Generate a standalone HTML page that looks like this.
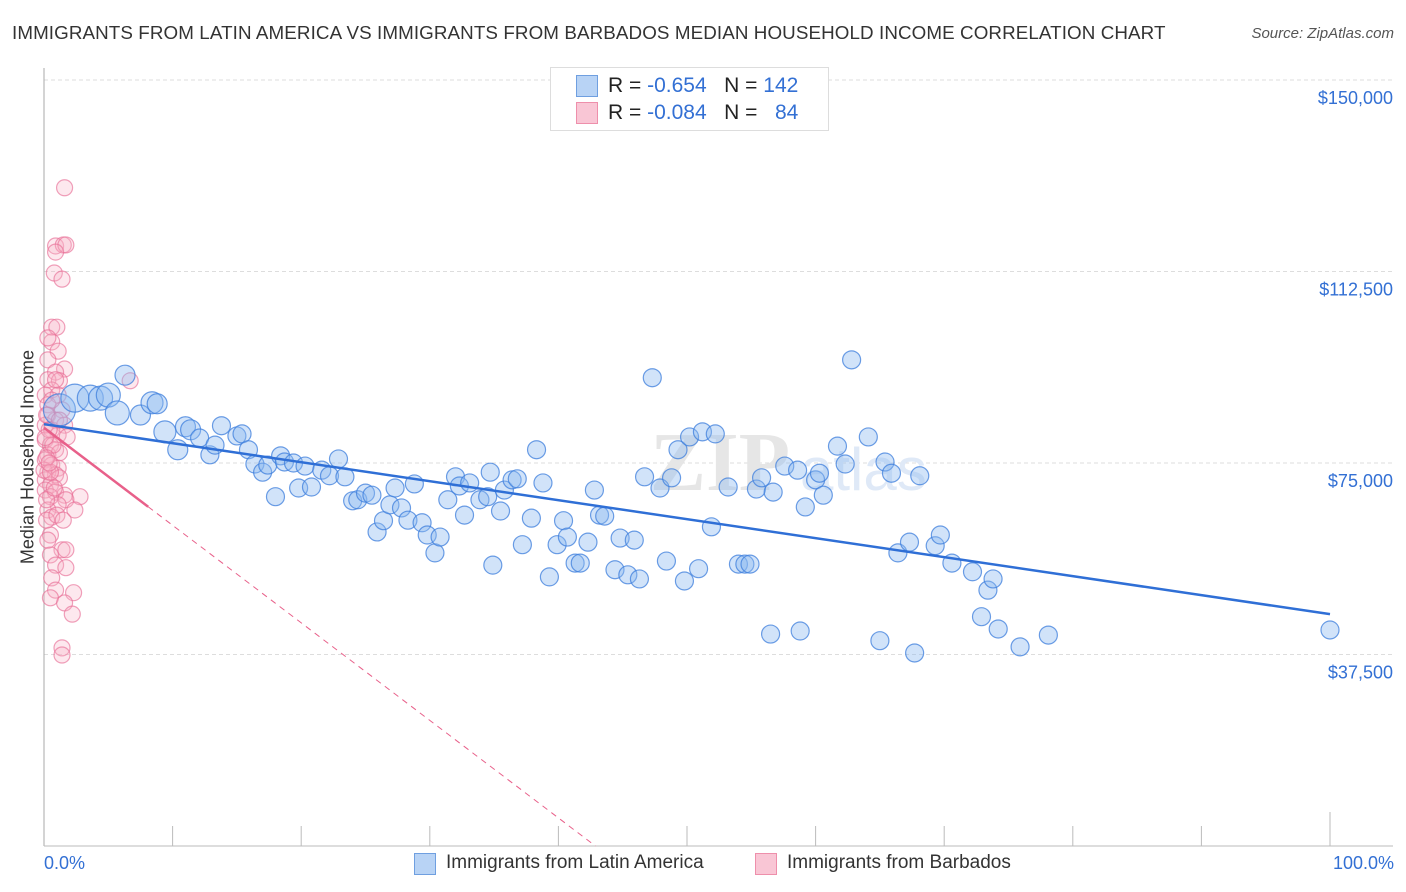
<!DOCTYPE html>
<html><head><meta charset="utf-8">
<style>
body{margin:0;background:#fff;font-family:"Liberation Sans",sans-serif;}
#wrap{position:relative;width:1406px;height:892px;overflow:hidden;}
.t{position:absolute;white-space:nowrap;}
</style></head>
<body>
<div id="wrap">
<div class="t" style="left:12px;top:22px;font-size:18.8px;letter-spacing:0.1px;color:#333;">IMMIGRANTS FROM LATIN AMERICA VS IMMIGRANTS FROM BARBADOS MEDIAN HOUSEHOLD INCOME CORRELATION CHART</div>
<div class="t" style="right:12px;top:25px;font-size:15px;color:#555;font-style:italic;">Source: ZipAtlas.com</div>
<svg id="svg" width="1406" height="892" style="position:absolute;left:0;top:0"></svg>
<div class="t" style="left:550px;top:67px;width:277px;height:62px;border:1px solid #ddd;background:#fff;"></div>
<div class="t" style="left:576px;top:75px;width:20px;height:20px;background:#b8d3f5;border:1px solid #6f9fe0;"></div>
<div class="t" style="left:576px;top:102px;width:20px;height:20px;background:#f9c6d5;border:1px solid #ee8fab;"></div>
<div class="t" style="left:608px;top:74px;font-size:21px;color:#222;">R = <span style="color:#3370d4">-0.654</span>&nbsp;&nbsp;&nbsp;N = <span style="color:#3370d4">142</span></div>
<div class="t" style="left:608px;top:101px;font-size:21px;color:#222;">R = <span style="color:#3370d4">-0.084</span>&nbsp;&nbsp;&nbsp;N = &nbsp;&nbsp;<span style="color:#3370d4">84</span></div>
<div class="t" style="left:28px;top:457px;font-size:18px;color:#333;transform:translate(-50%,-50%) rotate(-90deg);">Median Household Income</div>
<div class="t" style="left:44px;top:853px;font-size:18px;color:#3370d4;">0.0%</div>
<div class="t" style="right:12px;top:853px;font-size:18px;color:#3370d4;">100.0%</div>
<div class="t" style="left:414px;top:853px;width:20px;height:20px;background:#b8d3f5;border:1px solid #6f9fe0;"></div>
<div class="t" style="left:446px;top:852px;font-size:19px;color:#333;">Immigrants from Latin America</div>
<div class="t" style="left:755px;top:853px;width:20px;height:20px;background:#f9c6d5;border:1px solid #ee8fab;"></div>
<div class="t" style="left:787px;top:852px;font-size:19px;color:#333;">Immigrants from Barbados</div>
</div>
<script>
const yTicks=[150000,112500,75000,37500];
const yTickLabels=["$150,000","$112,500","$75,000","$37,500"];
const blueX=[1.2,2.4,3.6,4.4,5.0,6.3,5.7,7.5,8.4,8.8,9.4,10.4,11.0,11.4,12.1,12.9,13.3,13.8,15.0,15.4,15.9,16.4,17.0,17.4,18.0,18.4,18.7,19.4,19.8,20.3,20.8,21.6,22.2,22.9,23.4,24.0,24.4,25.0,25.5,25.9,26.4,26.9,27.3,27.8,28.3,28.8,29.4,29.8,30.4,30.8,31.4,32.0,32.3,32.7,33.1,33.9,34.5,34.7,34.9,35.5,35.8,36.4,36.8,37.2,37.9,38.3,38.8,39.3,39.9,40.4,40.7,41.3,41.7,42.3,42.8,43.2,43.6,44.4,44.8,45.4,45.9,46.3,46.7,47.3,47.9,48.4,48.8,49.3,49.8,50.2,50.9,51.2,51.9,52.2,53.2,54.0,54.5,54.9,55.4,55.8,56.5,56.7,57.6,58.6,58.8,59.2,60.0,60.3,60.6,61.7,62.3,62.8,64.1,65.0,65.4,65.9,66.4,67.3,67.7,68.1,69.3,69.7,70.6,72.2,72.9,73.4,73.8,74.2,75.9,78.1,100.0];
const blueY=[85.4,87.7,87.7,87.7,88.3,92.2,84.8,84.4,86.8,86.6,81.1,77.6,82.1,81.5,79.9,76.6,78.5,82.3,80.3,80.7,77.6,74.8,73.2,74.6,68.4,76.4,75.2,75.0,70.1,74.4,70.3,73.6,72.5,75.8,72.3,67.6,67.8,69.1,68.7,61.5,63.7,66.8,70.1,66.2,63.8,70.9,63.3,60.9,57.4,60.5,67.8,72.3,70.5,64.8,71.1,67.8,68.4,73.2,55.0,65.6,69.7,71.7,71.9,59.0,64.2,77.6,71.1,52.7,59.0,63.7,60.5,55.4,55.4,59.5,69.7,64.8,64.6,54.1,60.3,53.1,59.9,52.3,72.3,91.7,70.1,55.8,72.1,77.6,51.9,80.1,54.3,81.1,62.5,80.7,70.3,55.2,55.2,55.2,69.9,72.1,41.5,69.3,74.4,73.6,42.1,66.4,71.7,73.0,68.7,78.3,74.8,95.2,80.1,40.2,75.2,73.0,57.4,59.5,37.8,72.5,58.8,60.9,55.4,53.7,44.9,50.1,52.3,42.5,39.0,41.3,42.3];
const blueR=[16,14,13,12,12,10,12,10,11,10,11,10,10,10,9,9,9,9];
const pinkX=[1.6,0.9,1.5,1.7,0.9,0.8,1.4,0.6,1.0,0.6,0.3,1.1,0.3,1.6,0.9,0.3,1.2,6.7,0.6,0.1,1.1,0.3,1.4,0.3,0.9,0.1,1.6,0.6,1.1,1.8,0.1,0.5,0.9,0.3,1.2,0.1,0.6,1.1,0.3,0.9,0.1,1.2,0.5,0.1,0.9,1.6,2.8,0.5,1.7,1.1,0.3,2.4,0.6,0.5,1.4,0.5,1.7,0.9,1.7,0.6,0.9,2.3,0.5,1.6,2.2,1.4,1.4,0.2,0,0.2,0.2,0.3,0.9,0.6,1.2,0.4,0.7,0.2,0.5,0.8,1.0,1.5,0.1,0.4];
const pinkY=[128.9,117.5,117.7,117.7,116.3,112.2,111.0,101.6,101.6,98.7,99.5,96.9,95.2,93.4,92.8,91.3,91.1,91.1,89.3,88.3,88.3,86.4,85.4,84.4,83.4,82.4,82.4,81.5,80.5,80.1,79.5,78.5,77.6,76.6,77.0,75.6,74.6,74.0,73.2,72.7,71.7,72.1,70.7,69.7,69.3,68.7,68.4,68.4,67.8,66.8,65.8,65.8,64.4,60.9,58.0,57.0,58.0,55.0,54.5,52.5,50.1,49.6,48.6,47.6,45.4,38.8,37.4,84.4,73.6,67.8,63.8,59.9,91.3,87.3,83.4,81.5,78.5,76.0,73.2,70.1,64.8,63.8,80.0,75.0];
const blueTrend=[82.6,45.4];
const pinkTrend=[81.9,-1.91];

const X0=44,X1=1330,Y150=80,PX=191.5/37.5;
const sx=p=>X0+(X1-X0)*p/100;
const sy=v=>Y150+(150-v)*PX;
const NS="http://www.w3.org/2000/svg";
const svg=document.getElementById('svg');
function mk(tag,attrs,name){const e=document.createElementNS(NS,tag);for(const k in attrs)e.setAttribute(k,attrs[k]);


svg.appendChild(e);return e;}
yTicks.forEach((t,i)=>{
 const y=sy(t/1000);
 mk('line',{x1:X0,x2:1393,y1:y,y2:y,stroke:'#ddd','stroke-dasharray':'4,3'},'y-gridline');
 const tx=mk('text',{x:1393,y:y+24,'text-anchor':'end','font-size':18,fill:'#3370d4','font-family':'Liberation Sans'},'y-tick-label');
 tx.textContent=yTickLabels[i];
});
mk('line',{x1:X0,x2:X0,y1:68,y2:846,stroke:'#aaa'},'y-axis-line');
mk('line',{x1:X0,x2:1393,y1:846,y2:846,stroke:'#bbb'},'x-axis-line');
for(let i=1;i<=10;i++){const x=sx(i*10);mk('line',{x1:x,x2:x,y1:i==10?812:826,y2:846,stroke:'#bbb'},'x-tick');}
const wm=mk('text',{x:720,y:490,'text-anchor':'middle','font-size':84,fill:'#e6e6e6','font-family':'Liberation Serif','font-weight':'bold'},'watermark');
wm.textContent='ZIP';
const wm2=mk('text',{x:800,y:490,'font-size':60,fill:'#dfe9f7','font-family':'Liberation Sans'},'watermark-atlas');
wm2.textContent='atlas';
pinkX.forEach((p,i)=>{mk('circle',{cx:sx(p),cy:sy(pinkY[i]),r:8,fill:'rgba(248,180,200,0.3)',stroke:'rgba(232,110,150,0.65)','stroke-width':1.2},'barbados-point');});
blueX.forEach((p,i)=>{mk('circle',{cx:sx(p),cy:sy(blueY[i]),r:blueR[i]||9,fill:'rgba(140,185,240,0.4)',stroke:'rgba(60,125,220,0.75)','stroke-width':1.2},'latin-america-point');});
mk('line',{x1:sx(0),y1:sy(blueTrend[0]),x2:sx(100),y2:sy(blueTrend[1]),stroke:'#2f6fd6','stroke-width':2.5},'latin-america-trendline');
const pe=8.1,pz=-pinkTrend[0]/pinkTrend[1];
mk('line',{x1:sx(0),y1:sy(pinkTrend[0]),x2:sx(pe),y2:sy(pinkTrend[0]+pinkTrend[1]*pe),stroke:'#e8608a','stroke-width':2.5},'barbados-trendline');
mk('line',{x1:sx(pe),y1:sy(pinkTrend[0]+pinkTrend[1]*pe),x2:sx(pz),y2:sy(0),stroke:'#e8608a','stroke-width':1,'stroke-dasharray':'6,5'},'barbados-trendline-extension');
</script>
</body></html>
